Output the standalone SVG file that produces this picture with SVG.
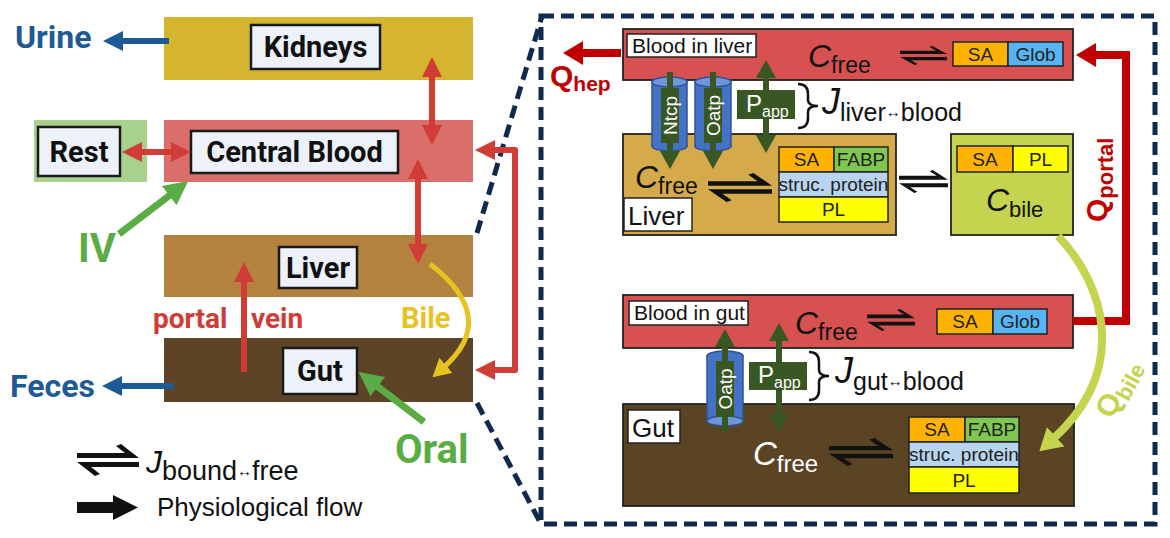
<svg xmlns="http://www.w3.org/2000/svg" xmlns:xlink="http://www.w3.org/1999/xlink" width="1170" height="538" viewBox="0 0 1170 538">
<style>
.lbl{fill:#edf2fa;stroke:#1a1a1a;stroke-width:2.5}
.lt{font-family:Roboto,'Liberation Sans',sans-serif;font-weight:700;font-size:29px;fill:#111;text-anchor:middle}
.bt{font-family:Roboto,'Liberation Sans',sans-serif;font-weight:700}
.rt{font-family:'Liberation Sans',Arial,sans-serif}
.box{stroke:#222;stroke-width:1.8}
.cell{stroke:#222;stroke-width:1.5}
.ct{font-family:'Liberation Sans',Arial,sans-serif;font-size:19px;text-anchor:middle;fill:#222}
.wl{fill:#fff;stroke:#222;stroke-width:1.5}
.dash{fill:none;stroke:#0f2a4e;stroke-width:5;stroke-dasharray:13 7}
.cyl{fill:#4472c4;stroke:#2f5597;stroke-width:1.5}
.cyltop{fill:#7096da;stroke:#2f5597;stroke-width:1.5}
.gl{fill:#385723}
.gt{font-family:'Liberation Sans',Arial,sans-serif;font-size:19px;fill:#fff;text-anchor:middle}
</style>
<defs>
<marker id="m-red" viewBox="0 0 20 20" refX="4" refY="10" markerWidth="20" markerHeight="20" markerUnits="userSpaceOnUse" orient="auto-start-reverse"><path d="M0,0 L20,10 L0,20 Z" fill="#d13c36"/></marker>
<marker id="m-blue" viewBox="0 0 20 20" refX="4" refY="10" markerWidth="20" markerHeight="20" markerUnits="userSpaceOnUse" orient="auto-start-reverse"><path d="M0,0 L20,10 L0,20 Z" fill="#1d5a96"/></marker>
<marker id="m-green" viewBox="0 0 24 24" refX="6" refY="12" markerWidth="24" markerHeight="24" markerUnits="userSpaceOnUse" orient="auto"><path d="M0,0 L24,12 L0,24 Z" fill="#5aad45"/></marker>
<marker id="m-yellow" viewBox="0 0 18 20" refX="4" refY="10" markerWidth="18" markerHeight="20" markerUnits="userSpaceOnUse" orient="auto"><path d="M0,0 L18,10 L0,20 Z" fill="#e8c21f"/></marker>
<marker id="m-dred" viewBox="0 0 20 24" refX="4" refY="12" markerWidth="20" markerHeight="24" markerUnits="userSpaceOnUse" orient="auto"><path d="M0,0 L20,12 L0,24 Z" fill="#c00000"/></marker>
<marker id="m-yg" viewBox="0 0 22 26" refX="5" refY="13" markerWidth="22" markerHeight="26" markerUnits="userSpaceOnUse" orient="auto"><path d="M0,0 L22,13 L0,26 Z" fill="#c4d44e"/></marker>
<marker id="m-dg" viewBox="0 0 18 20" refX="3" refY="10" markerWidth="18" markerHeight="20" markerUnits="userSpaceOnUse" orient="auto-start-reverse"><path d="M0,0 L18,10 L0,20 Z" fill="#385723"/></marker>
<symbol id="eq" viewBox="0 0 62 32" preserveAspectRatio="none">
<path d="M0,9 H48 L39,2 L44,0 L62,14 H0 Z" fill="#111"/>
<path d="M62,23 H14 L23,30 L18,32 L0,18 H62 Z" fill="#111"/>
</symbol>
<symbol id="eqs" viewBox="0 0 48 20" preserveAspectRatio="none">
<path d="M0,5 H37 L30,1 L33,0 L48,8.5 H0 Z" fill="#111"/>
<path d="M48,15 H11 L18,19 L15,20 L0,11.5 H48 Z" fill="#111"/>
</symbol>
</defs>

<rect width="1170" height="538" fill="#fff"/>

<!-- LEFT PANEL NODES -->
<g id="kidneys">
<rect x="164" y="17" width="309" height="63" fill="#d6b52e"/>
<rect class="lbl" x="251" y="25" width="129" height="44"/>
<text class="lt" x="315.5" y="57" font-size="30">Kidneys</text>
</g>
<g id="central-blood">
<rect x="164" y="120" width="309" height="62" fill="#da6e6a"/>
<rect class="lbl" x="191" y="131" width="207" height="42"/>
<text class="lt" x="294.5" y="162">Central Blood</text>
</g>
<g id="rest">
<rect x="34" y="120" width="113" height="62" fill="#a9d18e"/>
<rect class="lbl" x="38" y="127" width="82" height="49"/>
<text class="lt" x="79" y="162" font-size="30">Rest</text>
</g>
<g id="liver">
<rect x="164" y="235" width="309" height="62" fill="#b4823f"/>
<rect class="lbl" x="279" y="247" width="78" height="41"/>
<text class="lt" x="318" y="278">Liver</text>
</g>
<g id="gut">
<rect x="164" y="338" width="309" height="64" fill="#5d4426"/>
<rect class="lbl" x="283" y="348" width="74" height="46"/>
<text class="lt" x="320" y="381">Gut</text>
</g>
<g id="left-labels">
<text class="bt" x="15" y="48" font-size="32" fill="#1d5a96">Urine</text>
<text class="bt" x="10" y="397" font-size="32" fill="#1d5a96">Feces</text>
<text class="bt" x="78" y="262" font-size="40" fill="#5aad45">IV</text>
<text class="bt" x="395" y="463" font-size="40" fill="#5aad45">Oral</text>
<text class="bt" x="153" y="328" font-size="28" fill="#d13c36">portal</text>
<text class="bt" x="251" y="328" font-size="28" fill="#d13c36">vein</text>
<text class="bt" x="401" y="328" font-size="29" fill="#e8c21f">Bile</text>
</g>

<!-- LEGEND -->
<g id="legend">
<use href="#eq" x="77" y="444" width="62" height="32"/>
<text class="rt" x="146" y="473" font-size="32" fill="#111"><tspan font-style="italic">J</tspan><tspan font-size="27" dy="7">bound</tspan><tspan font-size="15" dy="-4">↔</tspan><tspan font-size="27" dy="4">free</tspan></text>
<polygon points="77,502 113,502 113,495 138,507.5 113,520 113,513 77,513" fill="#111"/>
<text class="rt" x="157" y="516" font-size="26" fill="#111">Physiological flow</text>
</g>

<!-- ZOOM FRAME -->
<g id="zoom-frame">
<rect class="dash" x="541" y="16" width="614" height="508"/>
<path class="dash" d="M477,233 L542,16"/>
<path class="dash" d="M477,403 L541,524"/>
</g>

<!-- RIGHT PANEL NODES -->
<g id="blood-in-liver">
<rect class="box" x="623" y="29" width="450" height="51" fill="#d75150"/>
<rect class="wl" x="627" y="34" width="129" height="23"/>
<text class="rt" x="632" y="53" font-size="21" fill="#111">Blood in liver</text>
<text class="rt" x="808" y="67" font-size="32" fill="#111"><tspan font-style="italic">C</tspan><tspan font-size="23" dy="6">free</tspan></text>
<use href="#eqs" x="900" y="46" width="47" height="19"/>
<rect class="cell" x="953" y="42" width="55" height="24" fill="#ffb300"/>
<rect class="cell" x="1008" y="42" width="55" height="24" fill="#56b4f2"/>
<text class="ct" x="980.5" y="60.5">SA</text>
<text class="ct" x="1035.5" y="60.5">Glob</text>
</g>

<g id="liver-cell">
<rect class="box" x="623" y="134" width="273" height="101" fill="#d4aa4a"/>
<text class="rt" x="635" y="188" font-size="32" fill="#111"><tspan font-style="italic">C</tspan><tspan font-size="23" dy="6">free</tspan></text>
<use href="#eq" x="708" y="173" width="64" height="29"/>
<rect class="wl" x="624" y="198" width="68" height="33"/>
<text class="rt" x="628" y="225" font-size="26" fill="#111">Liver</text>
<rect class="cell" x="779" y="147" width="55" height="25" fill="#ffb300"/>
<rect class="cell" x="834" y="147" width="54" height="25" fill="#7ec850"/>
<rect class="cell" x="779" y="172" width="109" height="25" fill="#b8d4ee"/>
<rect class="cell" x="779" y="197" width="109" height="25" fill="#ffff00"/>
<text class="ct" x="806.5" y="166">SA</text>
<text class="ct" x="861" y="166">FABP</text>
<text class="ct" x="833.5" y="190.5" font-size="17.5">struc. protein</text>
<text class="ct" x="833.5" y="216">PL</text>
</g>

<g id="bile">
<rect class="box" x="951" y="134" width="122" height="101" fill="#c4d44e"/>
<rect class="cell" x="957" y="146" width="56" height="26" fill="#ffb300"/>
<rect class="cell" x="1013" y="146" width="55" height="26" fill="#ffff00"/>
<text class="ct" x="985" y="165.5">SA</text>
<text class="ct" x="1040.5" y="165.5">PL</text>
<text class="rt" x="986" y="211" font-size="32" fill="#111"><tspan font-style="italic">C</tspan><tspan font-size="22" dy="6">bile</tspan></text>
</g>
<use href="#eqs" x="899" y="170" width="49" height="23"/>

<g id="blood-in-gut">
<rect class="box" x="623" y="295" width="450" height="53" fill="#d75150"/>
<rect class="wl" x="629" y="301" width="119" height="24"/>
<text class="rt" x="634" y="320" font-size="21" fill="#111">Blood in gut</text>
<text class="rt" x="795" y="334" font-size="32" fill="#111"><tspan font-style="italic">C</tspan><tspan font-size="23" dy="6">free</tspan></text>
<use href="#eqs" x="867" y="309" width="48" height="22"/>
<rect class="cell" x="937" y="309" width="56" height="25" fill="#ffb300"/>
<rect class="cell" x="993" y="309" width="54" height="25" fill="#56b4f2"/>
<text class="ct" x="965" y="328">SA</text>
<text class="ct" x="1020" y="328">Glob</text>
</g>

<g id="gut-cell">
<rect class="box" x="623" y="404" width="451" height="102" fill="#5a4424"/>
<rect class="wl" x="628" y="410" width="52" height="33"/>
<text class="rt" x="632" y="437" font-size="26" fill="#111">Gut</text>
<text class="rt" x="753" y="465" font-size="33" fill="#fff"><tspan font-style="italic">C</tspan><tspan font-size="24" dy="7">free</tspan></text>
<use href="#eq" x="829" y="438" width="64" height="28"/>
<rect class="cell" x="909" y="417" width="56" height="25" fill="#ffb300"/>
<rect class="cell" x="965" y="417" width="54" height="25" fill="#7ec850"/>
<rect class="cell" x="909" y="442" width="110" height="25" fill="#b8d4ee"/>
<rect class="cell" x="909" y="467" width="110" height="26" fill="#ffff00"/>
<text class="ct" x="937" y="436">SA</text>
<text class="ct" x="992" y="436">FABP</text>
<text class="ct" x="964" y="460.5" font-size="17.5">struc. protein</text>
<text class="ct" x="964" y="486.5">PL</text>
</g>

<!-- TRANSPORTERS -->
<g id="ntcp-liver">
<rect class="cyl" x="652" y="82" width="35" height="64"/>
<ellipse class="cyl" cx="669.5" cy="146" rx="17.5" ry="5"/>
<rect x="653" y="83" width="33" height="62" fill="#4472c4"/>
<ellipse class="cyltop" cx="669.5" cy="82" rx="17.5" ry="5"/>
</g>
<g id="oatp-liver">
<rect class="cyl" x="695" y="82" width="36" height="64"/>
<ellipse class="cyl" cx="713" cy="146" rx="18" ry="5"/>
<rect x="696" y="83" width="34" height="62" fill="#4472c4"/>
<ellipse class="cyltop" cx="713" cy="82" rx="18" ry="5"/>
</g>
<g id="oatp-gut">
<ellipse class="cyl" cx="725" cy="356" rx="18" ry="5"/>
<rect class="cyl" x="707" y="356" width="36" height="65"/>
<rect x="708" y="355" width="34" height="65" fill="#4472c4"/>
<ellipse class="cyltop" cx="725" cy="421" rx="18" ry="5"/>
</g>

<!-- CONNECTORS -->
<g id="connectors" fill="none">
<path d="M432,73 V129" stroke="#d13c36" stroke-width="6" marker-start="url(#m-red)" marker-end="url(#m-red)"/>
<path d="M138,152 H175" stroke="#d13c36" stroke-width="6" marker-start="url(#m-red)" marker-end="url(#m-red)"/>
<path d="M418,175 V248" stroke="#d13c36" stroke-width="6" marker-start="url(#m-red)" marker-end="url(#m-red)"/>
<path d="M244,372 V278" stroke="#d13c36" stroke-width="6" marker-end="url(#m-red)"/>
<path d="M491,150 H515 V370 H491" stroke="#d13c36" stroke-width="6" stroke-linejoin="round" marker-start="url(#m-red)" marker-end="url(#m-red)"/>
<path d="M169,41 H119" stroke="#1d5a96" stroke-width="6" marker-end="url(#m-blue)"/>
<path d="M174,386 H118" stroke="#1d5a96" stroke-width="6" marker-end="url(#m-blue)"/>
<path d="M119,234 L174,192" stroke="#5aad45" stroke-width="7" marker-end="url(#m-green)"/>
<path d="M424,422 L373,383" stroke="#5aad45" stroke-width="7" marker-end="url(#m-green)"/>
<path d="M430,264 Q500,318 443,368" stroke="#e8c21f" stroke-width="5" marker-end="url(#m-yellow)"/>

<path d="M621,53 H579" stroke="#c00000" stroke-width="8" marker-end="url(#m-dred)"/>
<path d="M1073,321 H1126 V55 H1092" stroke="#c00000" stroke-width="8" marker-end="url(#m-dred)"/>
<path d="M1058,236 C1105,285 1130,370 1052,440" stroke="#c4d44e" stroke-width="8" marker-end="url(#m-yg)"/>

<path d="M670,72 V154" stroke="#385723" stroke-width="6" marker-end="url(#m-dg)"/>
<path d="M713,72 V154" stroke="#385723" stroke-width="6" marker-end="url(#m-dg)"/>
<path d="M766,75 V138" stroke="#385723" stroke-width="6" marker-start="url(#m-dg)" marker-end="url(#m-dg)"/>
<path d="M725,432 V344" stroke="#385723" stroke-width="6" marker-end="url(#m-dg)"/>
<path d="M779,338 V417" stroke="#385723" stroke-width="6" marker-start="url(#m-dg)" marker-end="url(#m-dg)"/>
</g>

<!-- TRANSPORTER LABELS -->
<g id="ntcp-label">
<rect class="gl" x="661" y="88" width="18" height="55"/>
<text class="gt" transform="translate(676.5,115.5) rotate(-90)">Ntcp</text>
</g>
<g id="oatp-liver-label">
<rect class="gl" x="704" y="88" width="18" height="55"/>
<text class="gt" transform="translate(719.5,115.5) rotate(-90)">Oatp</text>
</g>
<g id="oatp-gut-label">
<rect class="gl" x="716" y="361" width="18" height="56"/>
<text class="gt" transform="translate(731.5,389) rotate(-90)">Oatp</text>
</g>
<g id="papp-liver">
<rect class="gl" x="737" y="90" width="58" height="29"/>
<text class="rt" x="746" y="112" font-size="24" fill="#fff">P<tspan font-size="16" dy="5">app</tspan></text>
</g>
<g id="papp-gut">
<rect class="gl" x="749" y="362" width="58" height="28"/>
<text class="rt" x="758" y="383" font-size="24" fill="#fff">P<tspan font-size="16" dy="5">app</tspan></text>
</g>

<!-- FLUX LABELS -->
<g id="j-liver">
<path d="M798,84 Q808,84 808,94 V100 Q808,106 818,106 Q808,106 808,112 V118 Q808,128 798,128" fill="none" stroke="#111" stroke-width="2.5"/>
<text class="rt" x="822" y="114" font-size="36" fill="#111"><tspan font-style="italic">J</tspan><tspan font-size="25" dy="7">liver</tspan><tspan font-size="15" dy="-4">↔</tspan><tspan font-size="25" dy="4">blood</tspan></text>
</g>
<g id="j-gut">
<path d="M809,352 Q819,352 819,362 V370 Q819,376 829,376 Q819,376 819,382 V390 Q819,400 809,400" fill="none" stroke="#111" stroke-width="2.5"/>
<text class="rt" x="835" y="383" font-size="36" fill="#111"><tspan font-style="italic">J</tspan><tspan font-size="25" dy="7">gut</tspan><tspan font-size="15" dy="-4">↔</tspan><tspan font-size="25" dy="4">blood</tspan></text>
</g>

<!-- FLOW LABELS -->
<g id="flow-labels">
<text class="rt" x="550" y="86" font-size="30" font-weight="700" fill="#c00000">Q<tspan font-size="21" dy="5">hep</tspan></text>
<text class="rt" transform="translate(1107,222) rotate(-90)" font-size="30" font-weight="700" fill="#c00000">Q<tspan font-size="22" dy="6">portal</tspan></text>
<text class="rt" transform="translate(1112,420) rotate(-62)" font-size="30" font-weight="700" fill="#c4d44e">Q<tspan font-size="22" dy="6">bile</tspan></text>
</g>
</svg>
